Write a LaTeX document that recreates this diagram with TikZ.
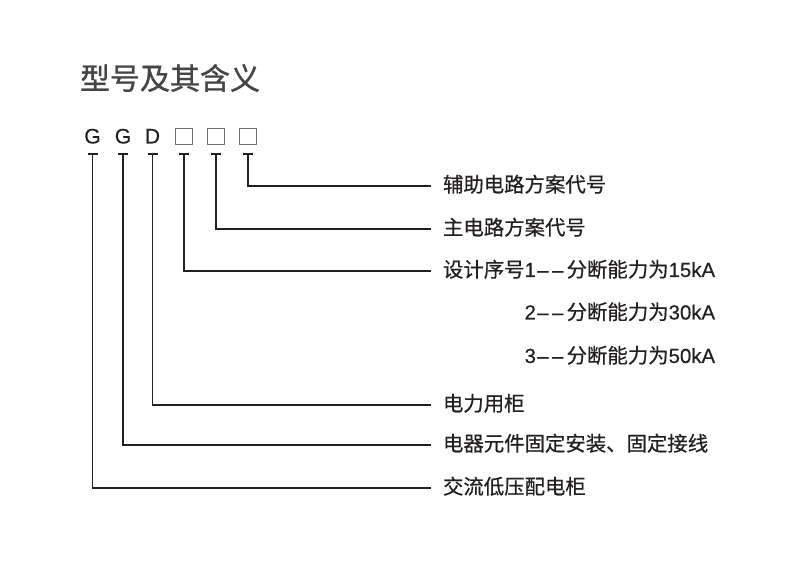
\documentclass[tikz,border=0pt]{standalone}
\usepackage{fontspec}
\setmainfont{Noto Sans CJK SC}[FakeBold=0.5]
\newfontfamily\cjktitle{Noto Sans CJK SC}[FakeBold=1.0]
\newfontfamily\lat{Liberation Sans}[FakeBold=0.3]
\usetikzlibrary{calc}
\definecolor{ink}{HTML}{231F20}
\definecolor{titlegray}{HTML}{454545}
\definecolor{boxgray}{HTML}{707070}
\newcommand{\dd}{\kern1pt–\kern2.6pt–\kern2.4pt}
\begin{document}
\begin{tikzpicture}[x=0.75pt,y=-0.75pt,
  every node/.style={inner sep=0pt,outer sep=0pt},
  letter/.style={anchor=base,font=\lat\fontsize{15.8pt}{16pt}\selectfont,text=ink},
  slot/.style={draw=boxgray,line width=0.7pt,minimum size=12.3pt,anchor=south},
  label/.style={anchor=west,font=\fontsize{15.3pt}{18pt}\selectfont,text=ink,text height=0.8em,text depth=0.05em},
  cont/.style={anchor=east,font=\fontsize{15.3pt}{18pt}\selectfont,text=ink,text height=0.8em,text depth=0.05em},
  conn/.style={draw=ink,line width=0.85pt},
  tbar/.style={draw=ink,line width=0.85pt}]
\useasboundingbox (0,0) rectangle (800,573);
\fill[white] (0,0) rectangle (800,573);
% title
\node[anchor=west,font=\cjktitle\fontsize{22.5pt}{24pt}\selectfont,text=titlegray] (title) at (80,78) {型号及其含义};
% code letters
\node[letter] (l1) at (92.5,143.5) {G};
\node[letter] (l2) at (123,143.5) {G};
\node[letter] (l3) at (152.5,143.5) {D};
\node[slot] (l4) at (184,144.5) {};
\node[slot] (l5) at (216,144.5) {};
\node[slot] (l6) at (248,144.5) {};
% labels
\node[label] (t6) at (443,187) {辅助电路方案代号};
\node[label] (t5) at (443,230) {主电路方案代号};
\node[label] (t4) at (443,272) {设计序号{\lat 1\dd}分断能力为{\lat 15kA}};
\node[cont] (t4b) at ($(t4.east)+(0,42.5)$) {{\lat 2\dd}分断能力为{\lat 30kA}};
\node[cont] (t4c) at ($(t4.east)+(0,86)$) {{\lat 3\dd}分断能力为{\lat 50kA}};
\node[label] (t3) at (443,406) {电力用柜};
\node[label] (t2) at (443,446) {电器元件固定安装、固定接线};
\node[label] (t1) at (443,489) {交流低压配电柜};
% connectors
\foreach \a/\b in {l1/t1,l2/t2,l3/t3}{
  \draw[tbar] ($(\a.base)+(-5,10.5)$) -- ($(\a.base)+(5,10.5)$);
  \draw[conn] ($(\a.base)+(0,10.5)$) |- ($(\b.west)+(-12,-1)$);
}
\foreach \a/\b in {l4/t4,l5/t5,l6/t6}{
  \draw[tbar] ($(\a.south)+(-5,9.5)$) -- ($(\a.south)+(5,9.5)$);
  \draw[conn] ($(\a.south)+(0,9.5)$) |- ($(\b.west)+(-12,-1)$);
}
\end{tikzpicture}
\end{document}
